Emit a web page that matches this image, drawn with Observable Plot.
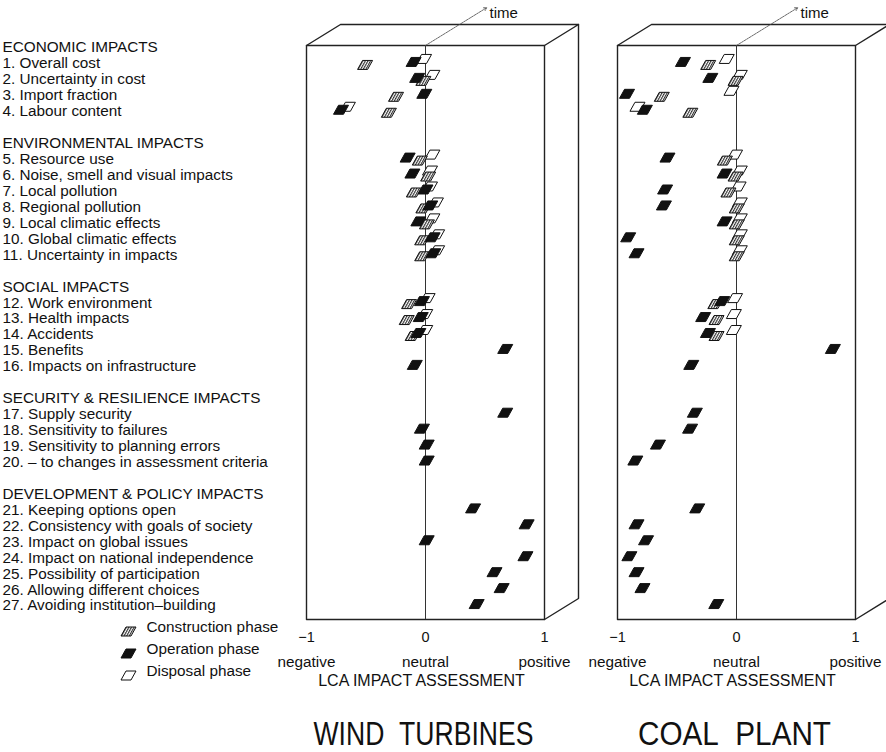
<!DOCTYPE html>
<html><head><meta charset="utf-8">
<script src="https://cdn.jsdelivr.net/npm/d3@7"></script>
<script src="https://cdn.jsdelivr.net/npm/@observablehq/plot@0.6"></script>
<style>
body{margin:0;background:#fff;}
#chart{position:relative;width:886px;height:752px;overflow:hidden;font-family:"Liberation Sans",Arial,Helvetica,sans-serif;}
#chart svg{position:absolute;top:0;overflow:visible;}
</style></head><body><div id="chart"></div>
<script>
// ---- categories ----
const groupTitles = ["ECONOMIC IMPACTS","ENVIRONMENTAL IMPACTS","SOCIAL IMPACTS","SECURITY & RESILIENCE IMPACTS","DEVELOPMENT & POLICY IMPACTS"];
const groupSizes = [4,7,5,4,7];
const items = ["1. Overall cost","2. Uncertainty in cost","3. Import fraction","4. Labour content",
"5. Resource use","6. Noise, smell and visual impacts","7. Local pollution","8. Regional pollution","9. Local climatic effects","10. Global climatic effects","11. Uncertainty in impacts",
"12. Work environment","13. Health impacts","14. Accidents","15. Benefits","16. Impacts on infrastructure",
"17. Supply security","18. Sensitivity to failures","19. Sensitivity to planning errors","20. \u2013 to changes in assessment criteria",
"21. Keeping options open","22. Consistency with goals of society","23. Impact on global issues","24. Impact on national independence","25. Possibility of participation","26. Allowing different choices","27. Avoiding institution\u2013building"];
const phaseNames = ["Construction phase","Operation phase","Disposal phase"];
const xTicks = [-1,0,1];
const xTickWords = ["negative","neutral","positive"];
const axisTitle = "LCA IMPACT ASSESSMENT";
const panelTitles = ["WIND\u00a0\u00a0TURBINES","COAL\u00a0\u00a0PLANT"];

// ---- series values (items 1..27; null = no marker) ----
const windConstruction = [-0.47,0.02,-0.21,-0.27, -0.01,0.06,-0.06,0.02,0.05,0.01,0.01, -0.10,-0.12,-0.07,null,null, null,null,null,null, null,null,null,null,null,null,null];
const windOperation    = [-0.10,-0.07,-0.01,-0.71, -0.15,-0.11,0.00,0.04,-0.06,0.06,0.065, -0.03,-0.04,-0.06,0.67,-0.09, 0.67,-0.03,0.01,0.01, 0.40,0.85,0.01,0.84,0.58,0.64,0.43];
const windDisposal     = [-0.05,0.02,null,-0.69, 0.02,0.00,0.00,0.05,0.02,0.06,0.06, -0.02,-0.04,-0.04,null,null, null,null,null,null, null,null,null,null,null,null,null];
const coalConstruction = [-0.20,0.03,-0.59,-0.35, -0.06,0.03,-0.03,0.04,0.04,0.04,0.04, -0.14,-0.13,-0.13,null,null, null,null,null,null, null,null,null,null,null,null,null];
const coalOperation    = [-0.45,-0.22,-0.92,-0.77, -0.58,-0.10,-0.60,-0.61,-0.10,-0.91,-0.84, -0.12,-0.28,-0.24,0.81,-0.38, -0.35,-0.39,-0.66,-0.85, -0.33,-0.84,-0.76,-0.90,-0.84,-0.79,-0.17];
const coalDisposal     = [-0.12,-0.01,-0.08,-0.87, -0.05,-0.01,-0.02,-0.01,-0.01,-0.01,-0.01, -0.05,-0.06,-0.06,null,null, null,null,null,null, null,null,null,null,null,null,null];

// ---- layout helpers ----
const labelRows = [], itemLine = [];
{ let line = 0, k = 0;
  groupTitles.forEach((g, gi) => {
    labelRows.push({line, text: g}); line++;
    for (let j = 0; j < groupSizes[gi]; j++) { labelRows.push({line, text: items[k]}); itemLine[k] = line; k++; line++; }
    line++;
  });
}
const Y0 = -0.125, Y1 = 35.875;          // front face top/bottom in row units
const PX_X = 119, PX_Y = 574 / 36;       // pixels per unit
const DEPTH = [34 / PX_X, -21 / PX_Y];   // receding (time) direction in data units

const para = { draw(ctx) { ctx.moveTo(-7.5, 4.5); ctx.lineTo(2.5, 4.5); ctx.lineTo(7.5, -4.5); ctx.lineTo(-2.5, -4.5); ctx.closePath(); } };
const phaseStyle = [
  {fill: "url(#hatch)", dx: -4.5, dy: 1.5},
  {fill: "#111", dx: 0, dy: -1.5},
  {fill: "white", dx: 4.5, dy: -4.5}
];
const font = '"Liberation Sans", Arial, Helvetica, sans-serif';

function addDefs(svg) {
  const ns = "http://www.w3.org/2000/svg";
  const defs = document.createElementNS(ns, "defs");
  defs.innerHTML = '<pattern id="hatch" patternUnits="userSpaceOnUse" width="2.6" height="10" patternTransform="skewX(-29)"><rect width="2.6" height="10" fill="white"/><rect width="1.3" height="10" fill="#333"/></pattern>';
  svg.insertBefore(defs, svg.firstChild);
}

function panel(series, opts) {
  const [dX, dY] = DEPTH;
  const front = [[-1, Y0], [1, Y0], [1, Y1], [-1, Y1], [-1, Y0]];
  const top = [[-1, Y0], [-1 + dX, Y0 + dY], [1 + dX, Y0 + dY], [1, Y0]];
  const side = [[1 + dX, Y0 + dY], [1 + dX, Y1 + dY], [1, Y1]];
  const boxStyle = {x: d => d[0], y: d => d[1], stroke: "#222", strokeWidth: 1.4, curve: "linear"};
  const marks = [
    Plot.line(front, boxStyle),
    Plot.line(top, boxStyle),
    Plot.line(side, boxStyle),
    Plot.ruleX([0], {y1: Y0, y2: Y1, stroke: "#333", strokeWidth: 1}),
    Plot.arrow([{x1: 0, y1: Y0, x2: dX * 1.8, y2: Y0 + dY * 1.8}], {x1: "x1", y1: "y1", x2: "x2", y2: "y2", stroke: "#444", strokeWidth: 0.8, strokeDasharray: "2,1", headLength: 6}),
    Plot.text(["time"], {x: 0.538, y: Y0 - 2.0, text: d => d, textAnchor: "start", fontSize: 15, fill: "#111"}),
    Plot.axisX(xTicks, {tickSize: 0, tickPadding: 12, fontSize: 14.5, label: null, tickFormat: d => d < 0 ? "\u2212" + (-d) : String(d)}),
    Plot.text(xTicks, {x: d => d, text: (d, i) => xTickWords[i], frameAnchor: "bottom", dy: 47, fontSize: 15.3, fill: "#111"}),
    Plot.text([axisTitle], {x: 0, text: d => d, frameAnchor: "bottom", dy: 66, dx: -4, fontSize: 16, fill: "#111"}),
    Plot.text([opts.title], {x: 0, text: d => d, frameAnchor: "bottom", dy: 125, dx: -2, fontSize: 34, fill: "#111"})
  ];
  [2, 0, 1].forEach(i => {
    const data = series[i].map((v, j) => ({v, line: itemLine[j]})).filter(d => d.v != null);
    marks.push(Plot.dot(data, {x: "v", y: "line", symbol: para, fill: phaseStyle[i].fill, stroke: "#111", strokeWidth: 1, dx: phaseStyle[i].dx, dy: phaseStyle[i].dy}));
  });
  if (opts.labels) {
    marks.push(Plot.text(labelRows, {y: "line", text: "text", frameAnchor: "left", dx: -(opts.marginLeft - 2), textAnchor: "start", fontSize: 15.3, fill: "#111"}));
    phaseNames.forEach((name, i) => {
      marks.push(Plot.dot([name], {frameAnchor: "bottom-left", dx: 128 - opts.marginLeft, dy: 12 + 22 * i, symbol: para, fill: phaseStyle[i].fill, stroke: "#111", strokeWidth: 1}));
      marks.push(Plot.text([name], {text: d => d, frameAnchor: "bottom-left", dx: 146 - opts.marginLeft, dy: 12 + 22 * i, textAnchor: "start", fontSize: 15.3, fill: "#111"}));
    });
  }
  const svg = Plot.plot({
    width: opts.width, height: 752,
    marginTop: 45, marginBottom: 133, marginLeft: opts.marginLeft, marginRight: opts.marginRight,
    x: {domain: [-1, 1], label: null, axis: null},
    y: {domain: [Y0, Y1], reverse: true, axis: null},
    style: {fontFamily: font, background: "transparent", color: "#111", overflow: "visible"},
    marks
  });
  addDefs(svg);
  // fit the big panel title to the reference's lettering width
  svg.querySelectorAll("text").forEach(t => {
    if (t.textContent === opts.title) {
      t.setAttribute("textLength", opts.titleLength);
      t.setAttribute("lengthAdjust", "spacingAndGlyphs");
    }
  });
  svg.style.left = opts.left + "px";
  return svg;
}

const chart = document.getElementById("chart");
chart.appendChild(panel([windConstruction, windOperation, windDisposal], {width: 600, left: 0, marginLeft: 306, marginRight: 56, title: panelTitles[0], titleLength: 220, labels: true}));
chart.appendChild(panel([coalConstruction, coalOperation, coalDisposal], {width: 286, left: 600, marginLeft: 17, marginRight: 31, title: panelTitles[1], titleLength: 193, labels: false}));
</script></body></html>
